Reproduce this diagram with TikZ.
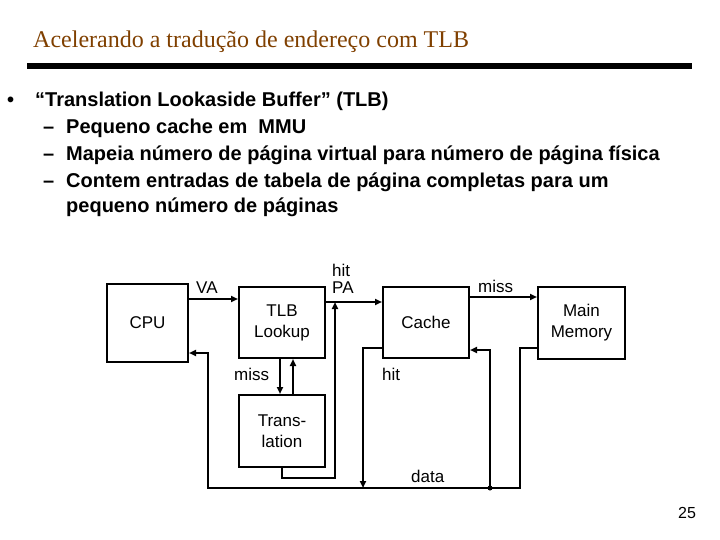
\documentclass[tikz,border=0pt]{standalone}
\usepackage{fontspec}
\setmainfont{Liberation Sans}
\newfontfamily\timesf{Liberation Serif}
\usetikzlibrary{arrows.meta}
\definecolor{titlebrown}{RGB}{128,64,0}
\newcommand\diagf{\fontsize{17}{21}\selectfont}
\newcommand\bulf{\fontsize{20}{24}\selectfont\bfseries}
\begin{document}
\begin{tikzpicture}[x=1pt,y=-1pt,
  box/.style={draw,line width=2pt,inner sep=0pt,align=center,font=\diagf},
  conn/.style={line width=2pt},
  arr/.style={conn,-{Triangle[length=7pt,width=6pt]}},
  lbl/.style={font=\diagf,inner sep=0pt,anchor=base west},
  bul/.style={font=\bulf,anchor=base west,inner sep=0pt}]
\useasboundingbox (0,0) rectangle (720,540);
\fill[white] (0,0) rectangle (720,540);
% title
\node[font=\timesf\fontsize{24}{28}\selectfont,text=titlebrown,anchor=base west,inner sep=0pt] (title) at (33,48) {Acelerando a tradução de endereço com TLB};
\fill (27,63) rectangle (692,69);
% bullets
\node[bul] (b0) at (7,107) {•};
\node[bul] (b1) at (35,107) {“Translation Lookaside Buffer” (TLB)};
\node[bul] (d2) at (43,134) {–};
\node[bul] (t2) at (66,134) {Pequeno cache em~ MMU};
\node[bul] (d3) at (43,161) {–};
\node[bul] (t3) at (66,161) {Mapeia número de página virtual para número de página física};
\node[bul] (d4) at (43,188) {–};
\node[bul] (t4) at (66,188) {Contem entradas de tabela de página completas para um};
\node[bul] (t5) at (66,213) {pequeno número de páginas};
% boxes
\node[box,minimum width=81pt,minimum height=78pt] (cpu) at (147.5,323) {CPU};
\node[box,minimum width=86pt,minimum height=71pt] (tlb) at (282,322.5) {TLB\\Lookup};
\node[box,minimum width=86pt,minimum height=72pt] (tr) at (282,431) {Trans-\\lation};
\node[box,minimum width=86pt,minimum height=71pt] (cache) at (426,322.5) {Cache};
\node[box,minimum width=87pt,minimum height=72pt] (mm) at (581.5,323) {Main\\Memory};
% helper coordinates
\coordinate (yva) at (0,299);
\coordinate (ypa) at (0,302);
\coordinate (ymiss) at (0,297);
\coordinate (yret) at (0,353);
\coordinate (yhit) at (0,348);
\coordinate (yfill) at (0,350);
\coordinate (ytr) at (0,478);
\coordinate (ybus) at (0,488);
\coordinate (xret) at (208,0);
\coordinate (xm) at (280,0);
\coordinate (xu) at (293,0);
\coordinate (xpa) at (335,0);
\coordinate (xhit) at (363,0);
\coordinate (xfill) at (490,0);
\coordinate (xmem) at (520,0);
% connectors
\draw[arr] (cpu.east |- yva) -- (tlb.west |- yva);
\draw[arr] (tlb.east |- ypa) -- (cache.west |- ypa);
\draw[arr] (tr.south) -- (tr.south |- ytr) -- (xpa |- ytr) -- (xpa |- ypa);
\draw[arr] (tlb.south -| xm) -- (tr.north -| xm);
\draw[arr] (tr.north -| xu) -- (tlb.south -| xu);
\draw[arr] (cache.east |- ymiss) -- (mm.west |- ymiss);
\draw[arr] (cache.west |- yhit) -- (xhit |- yhit) -- (xhit |- ybus);
\draw[arr] (mm.west |- yhit) -- (xmem |- yhit) -- (xmem |- ybus) -- (xret |- ybus) -- (xret |- yret) -- (cpu.east |- yret);
\draw[arr] (xfill |- ybus) -- (xfill |- yfill) -- (cache.east |- yfill);
\node[circle,fill,inner sep=0pt,minimum size=5pt] (dot) at (xfill |- ybus) {};
% labels
\node[lbl] (lhit) at (332,276) {hit};
\node[lbl] (lpa) at (332,293) {PA};
\node[lbl] (lva) at (196,293) {VA};
\node[lbl] (lmiss1) at (478,292) {miss};
\node[lbl] (lmiss2) at (234,380) {miss};
\node[lbl] (lhit2) at (382,380) {hit};
\node[lbl] (ldata) at (411,482) {data};
\node[lbl,font=\fontsize{16}{19}\selectfont] (pg) at (678,518) {25};
\end{tikzpicture}
\end{document}
